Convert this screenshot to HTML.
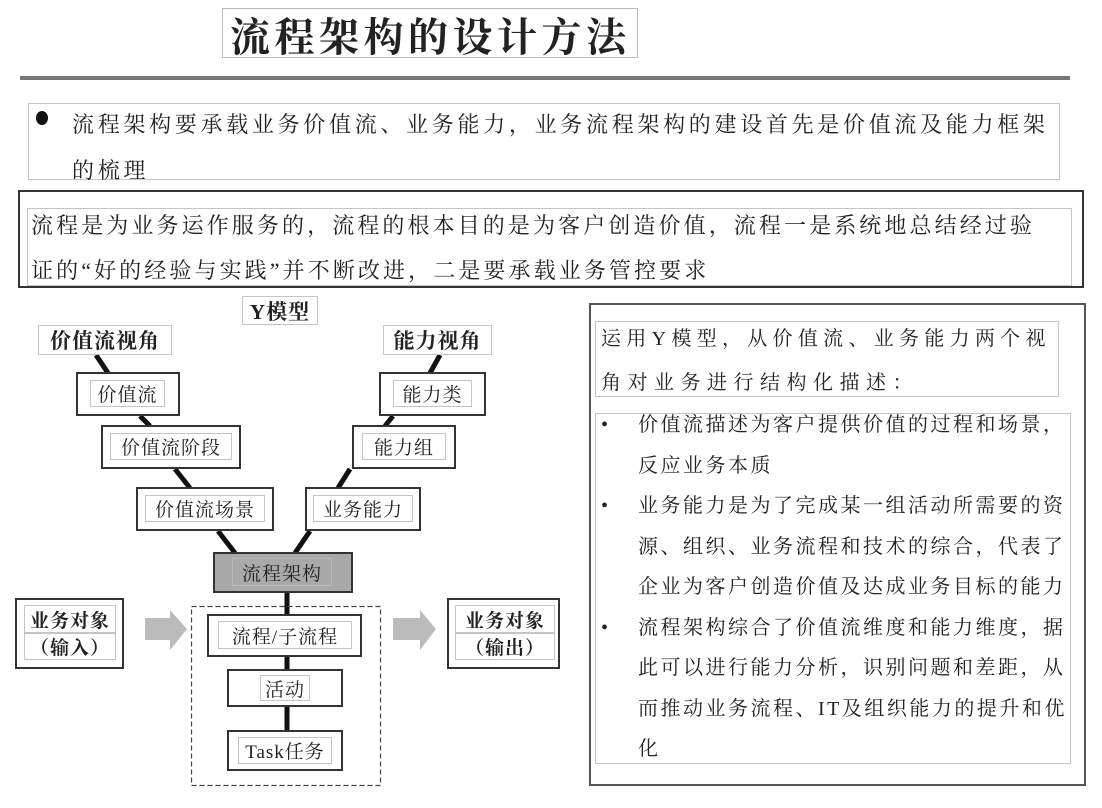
<!DOCTYPE html>
<html><head><meta charset="utf-8"><style>
*{margin:0;padding:0;box-sizing:border-box}
body{width:1102px;height:808px;background:#fff;position:relative;overflow:hidden;font-family:"Liberation Serif","Noto Serif CJK SC",serif;color:#222}
.a{position:absolute}
.o{position:absolute;border:2px solid #333;background:#fff}
.i{position:absolute;border:1px solid #c4c4c4;display:flex;align-items:center;justify-content:center;font-size:19px;white-space:nowrap;letter-spacing:1px}
.t{position:absolute;white-space:nowrap}
</style></head><body>
<svg class="a" style="left:0;top:0" width="1102" height="808">
<line x1="20" y1="78" x2="1070" y2="78" stroke="#777" stroke-width="4"/>
<g stroke="#111" stroke-width="5">
<line x1="96" y1="355" x2="108" y2="373"/>
<line x1="140" y1="416" x2="150" y2="426"/>
<line x1="175" y1="469" x2="190" y2="488"/>
<line x1="218" y1="531" x2="235" y2="553"/>
<line x1="440" y1="355" x2="430" y2="373"/>
<line x1="393" y1="416" x2="385" y2="426"/>
<line x1="350" y1="469" x2="338" y2="488"/>
<line x1="310" y1="531" x2="295" y2="553"/>
<line x1="287" y1="593" x2="287" y2="615"/>
<line x1="287" y1="657" x2="287" y2="670"/>
<line x1="287" y1="707" x2="287" y2="731"/>
</g>
<rect x="191.5" y="606.5" width="189" height="179" fill="none" stroke="#444" stroke-width="1.2" stroke-dasharray="5,3"/>
<polygon points="145,618 170,618 170,610 187,629 170,650 170,640 145,640" fill="#bbb"/>
<polygon points="393,618 420,618 420,610 436,629 420,650 420,640 393,640" fill="#bbb"/>
</svg>

<div class="a" style="left:222px;top:8px;width:416px;height:50px;border:1px solid #bbb;"></div>
<div class="t" style="left:230px;top:6px;font-size:40px;font-weight:bold;letter-spacing:4.5px">流程架构的设计方法</div>

<div class="a" style="left:28px;top:103px;width:1032px;height:77px;border:1px solid #c4c4c4"></div>
<div class="a" style="left:36px;top:111px;width:12px;height:14px;border-radius:50%;background:#111"></div>
<div class="t" style="left:72px;top:102px;font-size:22px;letter-spacing:3.7px;line-height:46px">流程架构要承载业务价值流、业务能力，业务流程架构的建设首先是价值流及能力框架<br>的梳理</div>

<div class="a" style="left:18px;top:190px;width:1066px;height:98px;border:2px solid #333"></div>
<div class="a" style="left:27px;top:208px;width:1045px;height:78px;border:1px solid #c4c4c4"></div>
<div class="t" style="left:31px;top:203px;font-size:22px;letter-spacing:3.1px;line-height:45px">流程是为业务运作服务的，流程的根本目的是为客户创造价值，流程一是系统地总结经过验<br>证的“好的经验与实践”并不断改进，二是要承载业务管控要求</div>

<div class="i" style="left:242px;top:296px;width:76px;height:29px;font-weight:bold;font-size:21px">Y模型</div>
<div class="i" style="left:38px;top:325px;width:134px;height:30px;font-weight:bold;font-size:21px">价值流视角</div>
<div class="i" style="left:383px;top:325px;width:109px;height:30px;font-weight:bold;font-size:21px">能力视角</div>

<div class="o" style="left:76px;top:372px;width:104px;height:44px"></div><div class="i" style="left:90px;top:380px;width:75px;height:27px">价值流</div>
<div class="o" style="left:101px;top:425px;width:140px;height:44px"></div><div class="i" style="left:110px;top:433px;width:122px;height:27px">价值流阶段</div>
<div class="o" style="left:136px;top:487px;width:138px;height:44px"></div><div class="i" style="left:145px;top:495px;width:120px;height:27px">价值流场景</div>
<div class="o" style="left:379px;top:372px;width:107px;height:44px"></div><div class="i" style="left:393px;top:380px;width:79px;height:27px">能力类</div>
<div class="o" style="left:352px;top:425px;width:104px;height:44px"></div><div class="i" style="left:362px;top:433px;width:84px;height:27px">能力组</div>
<div class="o" style="left:305px;top:487px;width:116px;height:44px"></div><div class="i" style="left:313px;top:495px;width:100px;height:27px">业务能力</div>

<div class="o" style="left:213px;top:552px;width:140px;height:41px;background:#a9a9a9"></div><div class="i" style="left:232px;top:558px;width:100px;height:28px;border-color:#bbb">流程架构</div>
<div class="o" style="left:207px;top:614px;width:155px;height:43px"></div><div class="i" style="left:218px;top:621px;width:134px;height:28px">流程/子流程</div>
<div class="o" style="left:227px;top:669px;width:116px;height:38px"></div><div class="i" style="left:260px;top:675px;width:50px;height:26px">活动</div>
<div class="o" style="left:227px;top:730px;width:116px;height:41px"></div><div class="i" style="left:238px;top:737px;width:94px;height:27px">Task任务</div>

<div class="o" style="left:15px;top:598px;width:109px;height:71px"></div>
<div class="i" style="left:24px;top:605px;width:92px;height:28px;font-weight:bold">业务对象</div>
<div class="i" style="left:24px;top:633px;width:92px;height:27px;font-weight:bold">（输入）</div>
<div class="o" style="left:447px;top:598px;width:113px;height:71px"></div>
<div class="i" style="left:455px;top:605px;width:100px;height:28px;font-weight:bold">业务对象</div>
<div class="i" style="left:455px;top:633px;width:100px;height:27px;font-weight:bold">（输出）</div>

<div class="a" style="left:589px;top:303px;width:497px;height:483px;border:2px solid #555"></div>
<div class="a" style="left:595px;top:321px;width:464px;height:76px;border:1px solid #c4c4c4"></div>
<div class="t" style="left:601px;top:317px;font-size:20px;line-height:44px"><span style="letter-spacing:5.3px">运用Y模型，从价值流、业务能力两个视</span><br><span style="letter-spacing:6.5px">角对业务进行结构化描述：</span></div>
<div class="a" style="left:595px;top:413px;width:476px;height:351px;border:1px solid #c4c4c4"></div>
<div class="t" style="left:601px;top:405px;font-size:20px;line-height:40.5px">•<br><br>•<br><br><br>•</div>
<div class="t" style="left:638px;top:405px;font-size:20px;letter-spacing:2.5px;line-height:40.5px">价值流描述为客户提供价值的过程和场景，<br>反应业务本质<br>业务能力是为了完成某一组活动所需要的资<br>源、组织、业务流程和技术的综合，代表了<br>企业为客户创造价值及达成业务目标的能力<br>流程架构综合了价值流维度和能力维度，据<br>此可以进行能力分析，识别问题和差距，从<br>而推动业务流程、IT及组织能力的提升和优<br>化</div>
</body></html>
